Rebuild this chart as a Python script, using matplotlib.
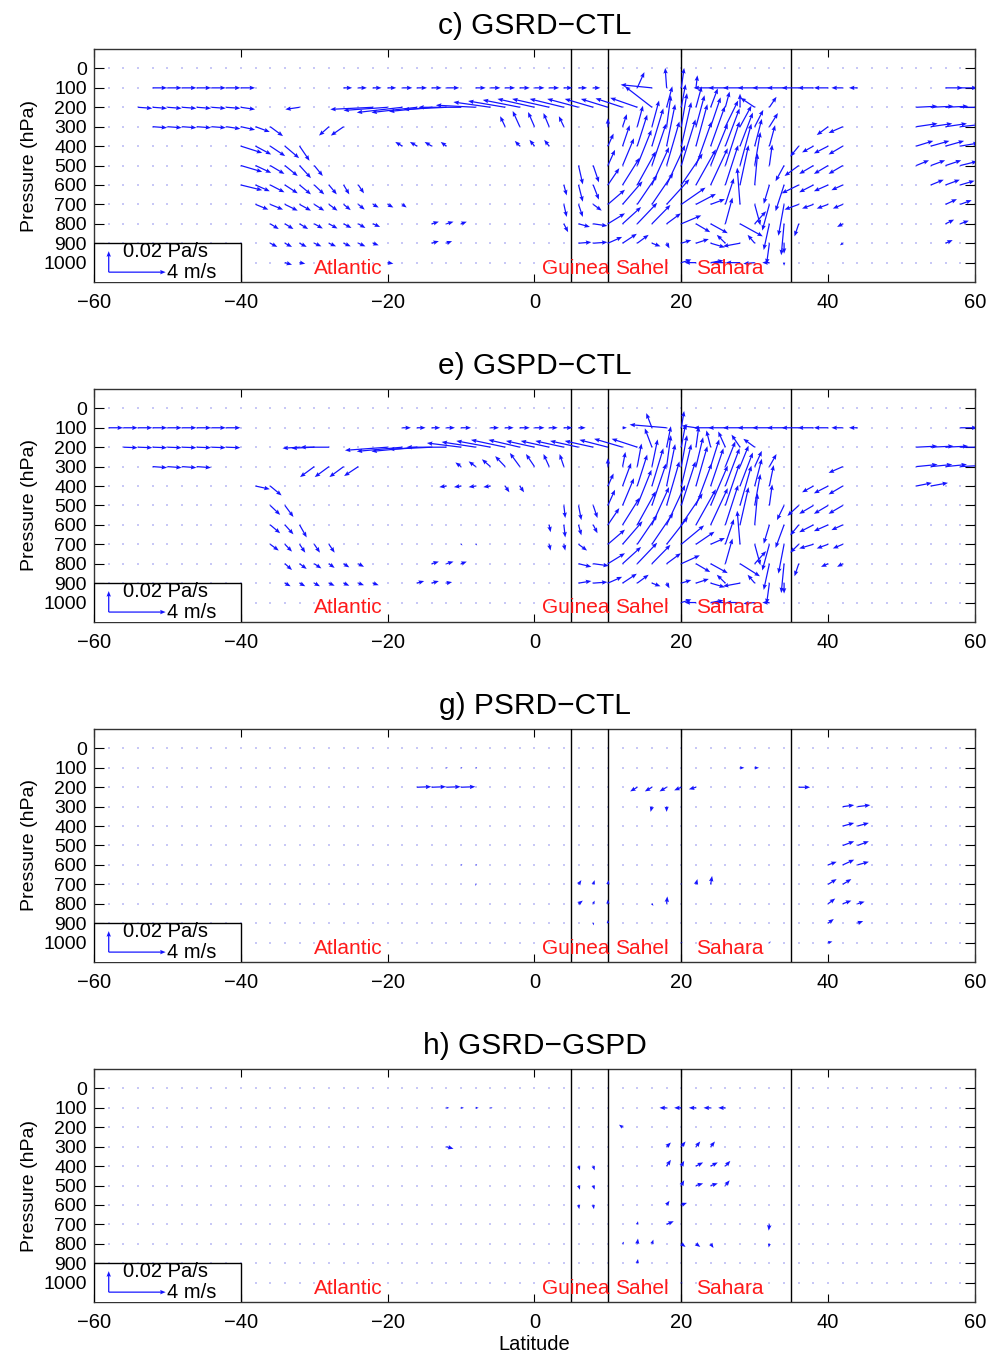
import numpy as np
import matplotlib.pyplot as plt
from matplotlib.patches import Rectangle

plt.rcParams.update({'font.family': ['Liberation Sans', 'DejaVu Sans'],
                     'font.size': 14.5,
                     'axes.linewidth': 1.0,
                     'axes.edgecolor': '0.2'})

# grid of the model output
grid_lat = np.arange(-60, 61, 2)
grid_lev = np.arange(0, 1001, 100)

titles = ['c) GSRD\u2212CTL', 'e) GSPD\u2212CTL', 'g) PSRD\u2212CTL', 'h) GSRD\u2212GSPD']
region_names = ['Atlantic', 'Guinea', 'Sahel', 'Sahara']
region_lat = [-30, 1, 11, 22]
boundaries = [5, 10, 20, 35]

# rows of arrows: (level hPa, first latitude, v in m/s, omega in 0.01 Pa/s)
# latitudes step by 2 degrees from the first one
c_rows = [
    (100, -52, [1.0, 1.0, 1.0, 1.0, 1.0, 1.0, 1.0], [0, 0, 0, 0, 0, 0, 0]),
    (100, -26, [0.6, 0.6, 0.6, 0.6, 0.7, 0.7, 0.7, 0.9], [0, 0, 0, 0, 0, 0, 0, 0]),
    (100, -8, [0.7, 0.7, 0.7, 0.7, 0.7, 0.7, 0.6, 0.6, 0.5], [0, 0, 0, 0, 0, 0, 0, 0, 0]),
    (100, 14, [0.5, -2.2, -0.1, 0.2, 0.1, -1.2, -1.2, -1.2, -1.2, -1.2, -1.2, -1.2, -1.1, -1.0, -0.8, -0.6],
              [-1.5, -0.3, -1.9, -1.9, -1.2, 0, 0, 0, 0, 0, 0, 0, 0, 0, 0, 0]),
    (100, 56, [1.2, 1.2], [0, 0]),
    (200, -54, [1.0, 1.0, 1.0, 1.0, 1.0, 1.0, 1.0, 1.0], [0.1, 0.1, 0.1, 0.1, 0.1, 0.1, 0.1, 0.2]),
    (200, -32, [-1.0], [0.2]),
    (200, -22, [-3.0, -3.1, -3.2, -3.2, -3.0, -3.0, -3.0, -2.8], [0.2, 0.3, 0.5, 0.5, 0.4, 0.2, 0.0, -0.2]),
    (200, -6, [-2.6, -2.6, -2.6, -2.6, -2.6, -2.4, -2.2, -2.0, -1.9, -1.9, -1.9, -1.9],
              [-0.5, -0.6, -0.7, -0.8, -0.8, -0.8, -0.8, -0.8, -0.8, -0.85, -0.9, -2.0]),
    (200, 18, [0.4, 0.3, 0.4, 0.5, 0.3, 0.0, -1.0, 0.5], [-2.0, -2.2, -2.0, -1.8, -1.5, -1.3, -0.9, -1.0]),
    (200, 52, [1.5, 1.6, 1.6, 1.6], [-0.1, -0.1, -0.1, 0.0]),
    (300, -52, [1.0, 1.0, 1.0, 1.0, 1.0, 1.0, 1.0, 1.0, 0.9], [0.1, 0.1, 0.1, 0.1, 0.1, 0.2, 0.3, 0.5, 0.9]),
    (300, -28, [-0.7, -0.9], [0.85, 0.85]),
    (300, -4, [-0.35, -0.5, -0.45, -0.4, -0.35], [-1.0, -1.5, -1.4, -1.3, -1.0]),
    (300, 10, [0.0, 0.3, 0.4, 0.5, 0.3, 0.4, 0.6, 0.7, 0.9, 0.8, 0.6, 0.6],
              [-0.8, -1.2, -2.0, -2.5, -3.0, -3.2, -3.0, -2.8, -2.5, -2.0, -1.6, -1.3]),
    (300, 40, [-0.8, -1.0], [0.8, 0.6]),
    (300, 52, [1.5, 1.5, 1.5, 1.4], [-0.3, -0.3, -0.3, -0.2]),
    (400, -40, [1.5, 1.1, 1.05, 1.0, 0.7], [0.65, 0.8, 0.95, 1.15, 1.4]),
    (400, -18, [-0.5, -0.5, -0.5, -0.4], [-0.4, -0.4, -0.4, -0.4]),
    (400, -2, [-0.35, -0.35, -0.35], [-0.5, -0.6, -0.6]),
    (400, 10, [0.4, 0.5, 0.7, 0.8, 0.6, 0.7, 0.8, 1.0, 1.0, 0.9, 0.5, 0.4],
              [-1.2, -2.0, -3.0, -3.6, -4.0, -4.2, -4.0, -3.8, -3.6, -3.2, -2.6, -2.0]),
    (400, 36, [-0.6, -0.8, -1.0, -1.0], [1.0, 0.6, 0.7, 0.8]),
    (400, 52, [1.2, 1.3, 1.3, 1.3], [-0.5, -0.5, -0.5, -0.3]),
    (500, -40, [1.5, 1.1, 1.0, 0.9, 0.8, 0.6], [0.6, 0.7, 0.8, 1.0, 1.2, 1.0]),
    (500, 6, [0.3, 0.4], [1.8, 1.6]),
    (500, 10, [0.5, 0.8, 1.0, 1.0, 0.9, 1.0, 1.1, 1.2, 1.0, 0.8, 0.4, 0.2, -0.6],
              [-1.5, -2.6, -3.4, -4.0, -4.2, -4.4, -4.2, -4.0, -4.2, -4.0, -3.2, -2.0, 1.5]),
    (500, 36, [-1.0, -1.0, -1.0, -1.0], [1.0, 0.8, 0.8, 0.8]),
    (500, 52, [0.9, 1.0, 1.1, 1.2], [-0.5, -0.5, -0.5, -0.4]),
    (600, -40, [1.5, 1.0, 1.0, 0.9, 0.8, 0.7, 0.55, 0.4, 0.4], [0.5, 0.6, 0.7, 0.8, 0.9, 0.9, 0.9, 0.9, 0.8]),
    (600, 4, [0.2, 0.3, 0.4], [1.0, 1.6, 1.4]),
    (600, 10, [0.8, 1.2, 1.3, 1.2, 1.3, 1.5, 1.4, 1.2, 0.9, 0.6, 0.2, -0.4, -0.6],
              [-1.6, -2.6, -3.2, -3.6, -3.8, -3.0, -3.4, -3.5, -3.8, -3.8, -3.0, 1.8, 2.5]),
    (600, 36, [-1.2, -1.0, -1.0, -0.8], [0.8, 0.7, 0.6, 0.5]),
    (600, 54, [0.9, 1.0, 1.0], [-0.5, -0.5, -0.4]),
    (700, -38, [0.9, 0.9, 0.9, 0.8, 0.7, 0.6, 0.5, 0.45, 0.4, 0.4, 0.3],
               [0.5, 0.5, 0.6, 0.6, 0.6, 0.6, 0.55, 0.5, 0.3, 0.3, 0.3]),
    (700, 4, [0.2, 0.3, 0.6], [1.2, 1.2, 0.6]),
    (700, 10, [1.2, 1.4, 1.4, 1.5, 1.6, 1.7, 1.4, 1.0, 0.6, -0.2, 0.4, -0.5, -0.4],
              [-1.4, -2.2, -2.8, -3.0, -2.4, -1.6, -1.0, -0.5, -2.5, -3.5, 2.0, 2.5, 3.0]),
    (700, 36, [-1.0, -0.8, -0.8, -0.7], [0.5, 0.4, 0.4, 0.4]),
    (700, 56, [0.8, 0.8], [-0.5, -0.4]),
    (800, -36, [0.6, 0.6, 0.6, 0.6, 0.6, 0.55, 0.5, 0.5], [0.5, 0.5, 0.5, 0.45, 0.45, 0.4, 0.4, 0.3]),
    (800, -14, [0.5, 0.5, 0.4], [-0.2, -0.2, -0.2]),
    (800, 4, [0.3, 0.8, 1.0], [0.8, 0.3, 0.2]),
    (800, 10, [1.2, 1.3, 1.4, 1.3, 1.0, 1.4, 1.0, 1.2, 0.5, 1.6, 0.8, -0.4, -0.2],
              [-1.0, -1.6, -2.0, -1.8, -1.0, -0.8, 0.8, 0.9, -2.5, 1.2, -1.2, 2.5, 3.0]),
    (800, 36, [-0.3], [1.2]),
    (800, 42, [-0.4], [0.3]),
    (800, 56, [0.6, 0.6], [-0.4, -0.3]),
    (900, -36, [0.5, 0.5, 0.5, 0.5, 0.5, 0.5, 0.5, 0.4], [0.35, 0.35, 0.35, 0.3, 0.3, 0.3, 0.3, 0.2]),
    (900, -14, [0.5, 0.4], [-0.2, -0.2]),
    (900, 6, [0.9, 1.0, 1.0, 1.0, 0.8, 0.6, 0.2, 0.7, 0.9, 1.0, -0.6, -1.2, -0.5, -0.2, 0.0],
             [-0.1, -0.1, -0.6, -0.9, -0.8, 0.3, 0.5, -0.3, -0.4, 0.4, -0.8, 0.3, -0.8, 2.0, 1.0]),
    (900, 42, [-0.2], [0.2]),
    (900, 56, [0.5], [-0.3]),
    (1000, -34, [0.5, 0.4], [0.2, 0.1]),
    (1000, -20, [0.4], [0.1]),
    (1000, 20, [0.7, -0.8, 0.9, -0.9, -1.0, -0.8, -0.5, 0.0], [-0.3, 0.0, -0.2, 0.0, 0.0, 0.1, 0.0, 0.3]),
]

e_rows = [
    (100, -58, [1.0, 1.0, 1.0, 1.0, 1.0, 1.0, 1.0, 1.0, 1.0], [0, 0, 0, 0, 0, 0, 0, 0, 0]),
    (100, -18, [0.6, 0.6, 0.6, 0.6, 0.7], [0, 0, 0, 0, 0]),
    (100, -6, [0.6, 0.6, 0.7, 0.7, 0.6, 0.6, 0.5], [0, 0, 0, 0, 0, 0, 0]),
    (100, 12, [0.3], [0.0]),
    (100, 16, [-0.4, -2.6, 0.2, -1.0, -1.2, -1.2, -1.2, -1.2, -1.2, -1.2, -1.2, -1.1, -1.0, -0.8, -0.6],
              [-1.4, -0.3, -1.6, -0.2, 0, 0, 0, 0, 0, 0, 0, 0, 0, 0, 0]),
    (100, 58, [1.2], [0.0]),
    (200, -56, [1.0, 1.0, 1.0, 1.0, 1.0, 1.0, 1.0, 1.0], [0.05, 0.05, 0.05, 0.05, 0.05, 0.05, 0.05, 0.05]),
    (200, -32, [-1.2, -1.6, -2.0], [0.1, 0.1, 0.0]),
    (200, -20, [-3.0, -3.2, -3.2, -3.0, -2.8], [0.3, 0.4, 0.4, 0.2, 0.0]),
    (200, -10, [-2.4, -2.4, -2.4, -2.4, -2.2, -2.0, -2.0, -2.0, -2.0, -2.0, -2.0, -2.0, -1.8],
               [-0.4, -0.5, -0.6, -0.7, -0.7, -0.6, -0.6, -0.6, -0.6, -0.6, -0.7, -0.8, -0.8]),
    (200, 16, [-0.5, 0.3, 0.3, 0.2, -0.3, -0.5, -0.6, -0.8], [-1.8, -2.0, -2.2, -2.0, -1.6, -1.5, -1.2, -0.8]),
    (200, 52, [1.5, 1.6, 1.6, 1.6], [-0.1, -0.1, -0.1, 0.0]),
    (300, -52, [1.0, 1.0, 1.0, 1.0], [0.1, 0.1, 0.1, 0.1]),
    (300, -30, [-1.0, -1.0, -1.0, -1.0], [1.0, 1.0, 1.0, 0.9]),
    (300, -10, [-0.4, -0.5, -0.6, -0.7, -0.7, -0.6, -0.4, -0.3], [-0.4, -0.5, -0.7, -1.0, -1.3, -1.2, -1.2, -1.2]),
    (300, 10, [0.0, 0.2, 0.3, 0.4, 0.3, 0.4, 0.5, 0.6, 0.7, 0.6, 0.5, 0.5],
              [-0.8, -1.4, -2.2, -2.6, -3.0, -3.0, -2.8, -2.6, -2.4, -2.0, -1.5, -1.2]),
    (300, 42, [-1.0], [0.6]),
    (300, 52, [1.5, 1.5, 1.5, 1.4], [-0.2, -0.2, -0.2, -0.1]),
    (400, -38, [1.0, 0.8], [0.3, 0.9]),
    (400, -12, [-0.5, -0.5, -0.5, -0.5], [0.1, 0.1, 0.1, 0.1]),
    (400, -4, [0.3, 0.3], [0.6, 0.6]),
    (400, 10, [0.4, 0.6, 0.7, 0.8, 0.6, 0.7, 0.8, 0.9, 1.0, 0.9, 0.5, 0.3],
              [-1.2, -2.2, -3.0, -3.6, -4.0, -4.0, -3.8, -3.6, -3.6, -3.2, -2.6, -2.0]),
    (400, 38, [-0.8, -1.0, -1.0], [0.6, 0.7, 0.8]),
    (400, 52, [1.1, 1.2], [-0.3, -0.3]),
    (500, -36, [0.7, 0.6], [0.9, 1.1]),
    (500, 4, [0.1, 0.2, 0.3], [1.2, 1.4, 1.2]),
    (500, 10, [0.5, 0.8, 1.0, 1.0, 0.9, 1.0, 1.1, 1.2, 1.0, 0.8, 0.4, 0.2, -0.5],
              [-1.5, -2.6, -3.4, -4.0, -4.2, -4.2, -4.0, -3.8, -4.0, -3.8, -3.0, -2.0, 1.4]),
    (500, 36, [-0.8, -1.0, -1.0, -1.0], [1.0, 0.8, 0.8, 0.8]),
    (600, -36, [0.7, 0.6, 0.5], [0.8, 0.9, 1.2]),
    (600, 2, [0.1, 0.1, 0.2, 0.3], [0.7, 1.2, 1.0, 0.8]),
    (600, 10, [0.8, 1.2, 1.3, 1.2, 1.3, 1.5, 1.4, 1.2, 0.9, 0.6, 0.2, -0.4, -0.6],
              [-1.6, -2.6, -3.2, -3.6, -3.8, -3.0, -3.4, -3.5, -3.8, -3.6, -3.0, 1.8, 2.2]),
    (600, 36, [-0.6, -1.0, -1.0, -0.8], [1.0, 0.7, 0.6, 0.5]),
    (700, -36, [0.6, 0.5, 0.4, 0.4, 0.4], [0.6, 0.7, 0.8, 0.8, 0.8]),
    (700, -10, [0.1, 0.1], [0.1, 0.1]),
    (700, 2, [0.1, 0.1, 0.6], [0.6, 0.6, 0.6]),
    (700, 10, [1.2, 1.4, 1.4, 1.5, 1.5, 1.6, 1.3, 1.0, 0.6, -0.2, 0.4, -0.5, -0.4],
              [-1.4, -2.2, -2.8, -3.0, -2.6, -1.8, -1.2, -0.6, -2.4, -3.2, 2.0, 2.5, 2.8]),
    (700, 36, [-0.6, -1.0, -0.8, -0.7], [0.8, 0.4, 0.4, 0.4]),
    (800, -34, [0.5, 0.5, 0.5, 0.4, 0.4, 0.4], [0.6, 0.5, 0.45, 0.4, 0.35, 0.3]),
    (800, -14, [0.5, 0.5, 0.4], [-0.2, -0.2, -0.2]),
    (800, 6, [0.9, 1.1], [0.3, 0.2]),
    (800, 10, [1.2, 1.3, 1.4, 1.3, 1.0, 1.3, 1.0, 1.2, 0.5, 1.4, 0.8, -0.4, -0.2],
              [-1.0, -1.6, -2.0, -1.8, -1.0, -0.8, 0.8, 0.9, -2.4, 1.2, -1.2, 2.5, 2.8]),
    (800, 36, [-0.3], [1.2]),
    (800, 40, [-0.5, -0.4], [0.3, 0.3]),
    (900, -34, [0.4, 0.4, 0.4, 0.4, 0.4, 0.4, 0.4], [0.3, 0.3, 0.3, 0.25, 0.25, 0.2, 0.2]),
    (900, -16, [0.5, 0.5, 0.4], [-0.2, -0.2, -0.1]),
    (900, 6, [0.9, 1.0, 1.0, 1.0, 0.8, 0.6, 0.2, 0.7, 0.9, 1.0, -0.6, -1.2, -0.5, -0.2, 0.0],
             [-0.2, -0.1, -0.6, -0.9, -0.8, 0.3, 0.5, -0.3, -0.4, 0.4, -0.8, 0.3, -0.8, 2.0, 1.0]),
    (1000, 20, [0.7, -0.8, 0.9, -0.9, -1.0, -0.8, -0.5], [-0.3, 0.0, -0.2, 0.0, 0.0, 0.1, 0.0]),
]

g_rows = [
    (100, -12, [0.1, 0.1, 0.1], [0, 0, 0]),
    (100, 28, [0.3, 0.3], [0, 0]),
    (200, -16, [1.0, 1.0, 1.0, 1.0], [-0.05, -0.05, -0.05, -0.05]),
    (200, 14, [-0.5, -0.5, -0.5, -0.5, -0.5], [0.4, 0.4, 0.4, 0.3, 0.2]),
    (200, 36, [0.8], [0.0]),
    (300, 16, [-0.1, 0.0], [0.5, 0.5]),
    (300, 42, [0.8, 0.9], [-0.15, -0.15]),
    (400, 42, [0.8, 0.8], [-0.3, -0.3]),
    (500, 42, [0.8, 0.8], [-0.4, -0.4]),
    (600, -10, [0.1, 0.1], [0, 0]),
    (600, 40, [0.6, 0.8, 0.8], [-0.3, -0.5, -0.3]),
    (700, -8, [0.0], [0.15]),
    (700, 6, [0.2, 0.1, 0.05], [-0.4, -0.4, -0.4]),
    (700, 20, [0.05, 0.1, 0.1], [-0.1, -0.5, -0.8]),
    (700, 40, [0.6, 0.6], [-0.5, -0.5]),
    (800, 6, [0.3, 0.1, 0.0], [-0.3, -0.3, -0.4]),
    (800, 16, [0.1, 0.05], [0.2, -0.7]),
    (800, 40, [0.5, 0.6, 0.5], [-0.5, -0.3, -0.2]),
    (900, 8, [0.05, 0.0], [0.2, -0.3]),
    (900, 40, [0.4], [-0.4]),
    (900, 44, [0.4], [-0.2]),
    (1000, 20, [0.1], [0.0]),
    (1000, 32, [0.1], [-0.1]),
    (1000, 40, [0.3], [-0.1]),
]

h_rows = [
    (100, -12, [0.2, 0.2, 0.2, 0.15], [0, 0, 0, 0]),
    (100, 18, [-0.5, -0.5, -0.5, -0.5, -0.5], [0, 0, 0, 0, 0]),
    (200, 12, [-0.25], [-0.25]),
    (300, -12, [0.5], [0.2]),
    (300, 18, [0.3, 0.3, 0.3, 0.3], [-0.4, -0.5, -0.5, -0.5]),
    (400, 6, [0.1, 0.1], [0.4, 0.4]),
    (400, 18, [0.3, 0.2, 0.5, 0.5, 0.35], [-0.6, -0.5, -0.35, -0.35, -0.5]),
    (500, 6, [0.1, 0.1], [0.4, 0.4]),
    (500, 20, [0.2, 0.5, 0.5, 0.3], [-0.5, -0.2, -0.2, -0.5]),
    (600, 6, [0.05, 0.05], [0.4, 0.4]),
    (600, 18, [0.2, 0.4], [-0.4, -0.2]),
    (700, 14, [0.05], [-0.3]),
    (700, 18, [0.5], [-0.3]),
    (700, 32, [-0.05], [0.6]),
    (800, 12, [0.1, 0.05, 0.1], [-0.2, -0.5, -0.4]),
    (800, 20, [0.3, 0.3, 0.2], [0.3, 0.3, 0.4]),
    (800, 32, [-0.05], [0.35]),
    (900, 14, [0.05], [-0.4]),
    (1000, 20, [0.1], [0.05]),
]

# arrow scaling: 4 m/s and 0.02 Pa/s
deg_per_ms = 7.76 / 4.0
hpa_per_unit = 108.0 / 2.0
arrow_kw = dict(angles='xy', scale_units='xy', scale=1, color='#1414ff', width=0.0014,
                headwidth=3.6, headlength=4.5, headaxislength=4.0, minlength=0.5)


def expand(rows):
    la, pl, uu, ww = [], [], [], []
    for level, lat0, us, oms in rows:
        for k, (u, w) in enumerate(zip(us, oms)):
            la.append(lat0 + 2 * k)
            pl.append(level)
            uu.append(u)
            ww.append(w)
    return np.array(la), np.array(pl), np.array(uu), np.array(ww)


fig = plt.figure(figsize=(9.92, 13.58), dpi=100)
bottoms = [0.7923, 0.5420, 0.2916, 0.0412]
glat, glev = np.meshgrid(grid_lat, grid_lev)

for i, (title, rows) in enumerate(zip(titles, [c_rows, e_rows, g_rows, h_rows])):
    ax = fig.add_axes([0.0948, bottoms[i], 0.888, 0.1716])
    ax.plot(glat.ravel(), glev.ravel(), ls='none', marker='s', ms=1.7, mew=0,
            color='#c8c8f6', zorder=1)
    la, pl, u, w = expand(rows)
    ax.quiver(la, pl, u * deg_per_ms, w * hpa_per_unit, zorder=4, **arrow_kw)
    for b in boundaries:
        ax.axvline(b, color='k', lw=1.0, zorder=3)
    for name, x0 in zip(region_names, region_lat):
        ax.text(x0, 1028, name, color='#ff1a1a', va='center', ha='left', fontsize=15, zorder=5)

    # key box
    ax.add_patch(Rectangle((-60, 897), 20, 210, facecolor='white', edgecolor='k', lw=1.0, zorder=6))
    ax.quiver([-58], [1049], [0], [-2 * hpa_per_unit], zorder=7, **arrow_kw)
    ax.quiver([-58], [1049], [4 * deg_per_ms], [0], zorder=7, **arrow_kw)
    ax.text(-56, 943, '0.02 Pa/s', va='center', ha='left', fontsize=14.5, zorder=8)
    ax.text(-50, 1050, '4 m/s', va='center', ha='left', fontsize=14.5, zorder=8)

    ax.set_xlim(-60, 60)
    ax.set_ylim(1100, -100)
    ax.set_xticks(np.arange(-60, 61, 20))
    ax.set_yticks(grid_lev)
    ax.tick_params(axis='x', direction='in', top=True, length=6, width=0.8, pad=8, labelsize=14.5)
    ax.tick_params(axis='y', direction='in', right=True, length=7.5, width=0.8, pad=5, labelsize=14)
    ax.set_title(title, fontsize=21.5, pad=11)
    ax.set_ylabel('Pressure (hPa)', fontsize=14, labelpad=4)
    if i == 3:
        ax.set_xlabel('Latitude', fontsize=14.5, labelpad=2)

fig.savefig('out.png', dpi=100)
